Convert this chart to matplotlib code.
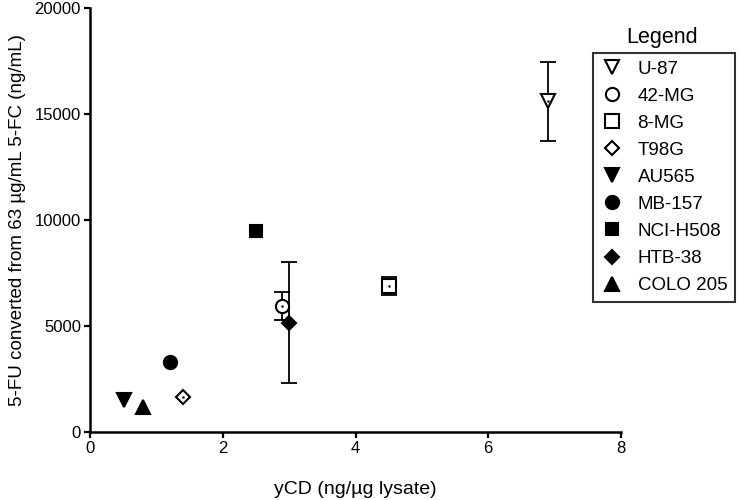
import matplotlib.pyplot as plt

plt.rcParams["font.family"] = ["Liberation Sans", "DejaVu Sans"]

# Data
lines = ["U-87", "42-MG", "8-MG", "T98G", "AU565", "MB-157", "NCI-H508", "HTB-38", "COLO 205"]
ycd = [6.9, 2.89, 4.5, 1.4, 0.51, 1.2, 2.5, 3.0, 0.8]
fu = [15600, 5950, 6900, 1650, 1500, 3290, 9500, 5150, 1160]
fu_err = [1870, 650, 430, 0, 0, 0, 0, 2850, 0]
markers = ["v", "o", "s", "D", "v", "o", "s", "D", "^"]
hollow = [True, True, True, True, False, False, False, False, False]
sizes = [10, 9.5, 9.5, 7.5, 10, 9.5, 9, 7.5, 10]

fig = plt.figure(figsize=(7.42, 5), dpi=100)
ax = fig.add_axes([90 / 742, 68 / 500, 531 / 742, 424 / 500])

handles = []
for i, name in enumerate(lines):
    face = "white" if hollow[i] else "black"
    if fu_err[i] > 0:
        ax.errorbar(ycd[i], fu[i], yerr=fu_err[i], fmt="none", ecolor="black",
                    elinewidth=1.3, capsize=5.5, capthick=1.3, zorder=2)
    h, = ax.plot(ycd[i], fu[i], linestyle="none", marker=markers[i], markersize=sizes[i],
                 markerfacecolor=face, markeredgecolor="black", markeredgewidth=1.5,
                 label=name, zorder=3)
    handles.append(h)
    if hollow[i]:
        ax.plot(ycd[i], fu[i], linestyle="none", marker=".", markersize=1.5, color="black", zorder=4)

ax.set_xlim(0, 8)
ax.set_ylim(0, 20000)
ax.set_xticks([0, 2, 4, 6, 8])
ax.set_yticks([0, 5000, 10000, 15000, 20000])
ax.spines["top"].set_visible(False)
ax.spines["right"].set_visible(False)
ax.spines["left"].set_linewidth(1.8)
ax.spines["bottom"].set_linewidth(1.8)
ax.tick_params(direction="out", width=1.6, length=4.5, labelsize=12, pad=2)

ax.set_xlabel("yCD (ng/\u00b5g lysate)", fontsize=14, labelpad=18)
ax.set_ylabel("5-FU converted from 63 \u00b5g/mL 5-FC (ng/mL)", fontsize=13.5, labelpad=6)

leg = fig.legend(handles=handles, loc="upper left", bbox_to_anchor=(593 / 742, 1 - 53 / 500),
                 borderaxespad=0, fontsize=13.5, frameon=True, fancybox=False, edgecolor="black",
                 handletextpad=0.75, labelspacing=0.53, borderpad=0.4, handlelength=1.23)
leg.get_frame().set_linewidth(1.5)
fig.text(662 / 742, 1 - 37 / 500, "Legend", ha="center", va="center", fontsize=15.5)

fig.savefig("out.png", dpi=100)
